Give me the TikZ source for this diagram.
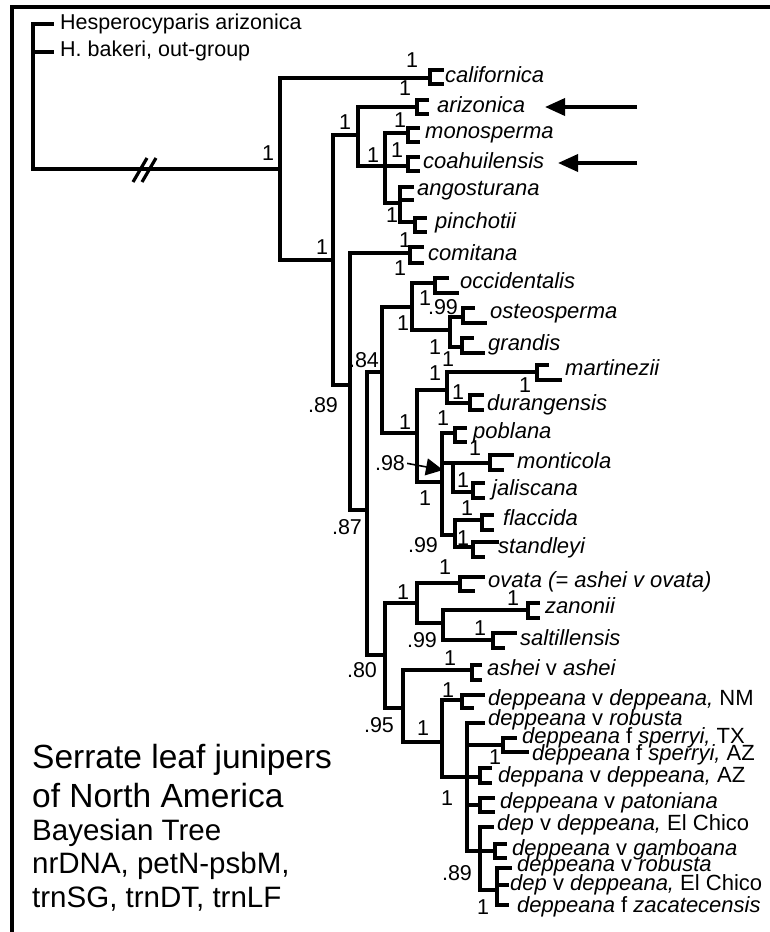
\documentclass[tikz,border=0pt]{standalone}
\usepackage{fontspec}
\setmainfont{Liberation Sans}
\usetikzlibrary{calc,arrows.meta}
\newcommand\rmv[1]{{\upshape #1}}
\newcommand\tipbr[5]{\draw[tree] ($(#1)+(#4,-#2)$) -- ($(#1)+(0,-#2)$) -- ($(#1)+(0,#3)$) -- ($(#1)+(#5,#3)$);}
\tikzset{
  tree/.style={line width=3.6pt, line cap=rect, line join=miter},
  framel/.style={line width=3.8pt},
  supp/.style={font=\fontsize{21.5}{21.5}\selectfont, inner sep=0pt, text height=15pt, text depth=0pt, anchor=center},
  taxon/.style={font=\fontsize{22}{22}\selectfont\itshape, inner sep=0pt, anchor=west, text height=15.5pt, text depth=4.5pt},
  outg/.style={font=\fontsize{21.5}{21.5}\selectfont, inner sep=0pt, anchor=west, text height=15.5pt, text depth=4.5pt},
  ttla/.style={font=\fontsize{33.5}{33.5}\selectfont, inner sep=0pt, anchor=base west},
  ttlb/.style={font=\fontsize{29.5}{29.5}\selectfont, inner sep=0pt, anchor=base west},
  bigarrow/.style={line width=3.6pt, -{Triangle[length=20pt,width=17pt]}},
}
\begin{document}
\begin{tikzpicture}[x=1pt,y=-1pt]
\fill[white] (0,0) rectangle (770,932);
\useasboundingbox (0,0) rectangle (770,932);
% frame
\coordinate (fr1) at (770,7);
\coordinate (fr2) at (12,7);
\coordinate (fr3) at (12,932);
\draw[framel] (fr1) -- (fr2) -- (fr3);

% out-group and root
\coordinate (og1) at (52,24);
\coordinate (og2) at (52,52);
\coordinate (og2s) at (33,52);
\coordinate (Rt) at (33,169);
\coordinate (A) at (280,169);
\draw[tree] (og1) -| (Rt) -- (A);
\draw[tree] (og2s) -- (og2);
\node[outg] (tog1) at (60,24) {Hesperocyparis arizonica};
\node[outg] (tog2) at (60,51) {H. bakeri, out-group};
\coordinate (br1a) at (133,182); \coordinate (br1b) at (147,158);
\coordinate (br2a) at (142,182); \coordinate (br2b) at (156,158);
\draw[line width=3.2pt] (br1a) -- (br1b);
\draw[line width=3.2pt] (br2a) -- (br2b);

% internal nodes
\coordinate (C) at (333,260);
\coordinate (D) at (358,135);
\coordinate (F) at (385,166);
\coordinate (G) at (400,203);
\coordinate (E) at (350,385);
\coordinate (I) at (367,510);
\coordinate (J) at (382,372);
\coordinate (H) at (412,307);
\coordinate (M) at (450,330);
\coordinate (L) at (417,433);
\coordinate (O) at (447,390);
\coordinate (N) at (442,482);
\coordinate (P) at (453,463);
\coordinate (Q) at (455,535);
\coordinate (K) at (385,655);
\coordinate (R) at (417,603);
\coordinate (S) at (443,623);
\coordinate (T) at (403,708);
\coordinate (U) at (442,742);
\coordinate (V) at (467,777);
\coordinate (W) at (480,851);
\coordinate (X) at (497,890);

% tips (bracket bars)
\coordinate (cal) at (430,78);
\coordinate (ari) at (417,107);
\coordinate (mon) at (408,133);
\coordinate (coa) at (408,166);
\coordinate (ang) at (400,193);
\coordinate (pin) at (415,222);
\coordinate (com) at (410,253);
\coordinate (occ) at (435,283);
\coordinate (ost) at (463,317);
\coordinate (gra) at (462,347);
\coordinate (mar) at (537,372);
\coordinate (dur) at (470,403);
\coordinate (pob) at (455,433);
\coordinate (mnt) at (490,463);
\coordinate (jal) at (473,492);
\coordinate (fla) at (482,520);
\coordinate (sta) at (473,547);
\coordinate (ova) at (460,583);
\coordinate (zan) at (528,610);
\coordinate (sal) at (493,640);
\coordinate (ash) at (472,670);
\coordinate (dnm) at (462,700);
\coordinate (spe) at (503,745);
\coordinate (daz) at (480,777);
\coordinate (pat) at (480,805);
\coordinate (gam) at (495,851);
% single stubs
\coordinate (rob1) at (483,723);
\coordinate (ec1) at (492,827);
\coordinate (rob2) at (510,868);
\coordinate (ec2) at (507,885);
\coordinate (zac) at (507,905);

\foreach \pa/\ch in {A/cal, A/C, C/D, C/E, D/ari, D/F, F/mon, F/coa, F/G, G/ang, G/pin,
  E/com, E/I, I/J, I/K, J/H, J/L, H/occ, H/M, M/ost, M/gra, L/O, L/N, O/mar, O/dur,
  N/pob, N/P, N/Q, P/mnt, P/jal, Q/fla, Q/sta, K/R, K/T, R/ova, R/S, S/zan, S/sal,
  T/ash, T/U, U/dnm, U/V, V/rob1, V/spe, V/daz, V/pat, V/W, W/ec1, W/gam, W/X,
  X/rob2, X/ec2, X/zac}
  \draw[tree] (\pa) |- (\ch);

\foreach \nm/\ua/\ub/\uc/\ud in {cal/8/6/12/12, ari/7/7/10/10, mon/5/9/10/10, coa/9/5/10/10,
  ang/6/7/12/12, pin/4/10/10/10, com/6/10/12/12, occ/5/10/12/22, ost/9/6/10/22,
  gra/9/6/10/21, mar/7/8/10/23, dur/8/7/12/12, pob/5/9/10/10, mnt/8/7/22/12,
  jal/9/6/10/10, fla/5/10/10/10, sta/5/10/24/10, ova/6/8/23/13, zan/7/8/10/10,
  sal/7/8/22/10, ash/5/10/8/8, dnm/5/8/21/10, spe/7/7/12/24, daz/9/6/10/10,
  pat/7/7/13/13, gam/7/7/10/10}
  \tipbr{\nm}{\ua}{\ub}{\uc}{\ud};

% taxon labels
\node[taxon] (tcal) at (445,77) {californica};
\node[taxon] (tari) at (437,107) {arizonica};
\node[taxon] (tmon) at (425,133) {monosperma};
\node[taxon] (tcoa) at (423,163) {coahuilensis};
\node[taxon] (tang) at (417,190) {angosturana};
\node[taxon] (tpin) at (435,223) {pinchotii};
\node[taxon] (tcom) at (428,255) {comitana};
\node[taxon] (tocc) at (460,283) {occidentalis};
\node[taxon] (tost) at (490,313) {osteosperma};
\node[taxon] (tgra) at (488,345) {grandis};
\node[taxon] (tmar) at (565,370) {martinezii};
\node[taxon] (tdur) at (487,405) {durangensis};
\node[taxon] (tpob) at (473,433) {poblana};
\node[taxon] (tmnt) at (517,463) {monticola};
\node[taxon] (tjal) at (492,490) {jaliscana};
\node[taxon] (tfla) at (503,520) {flaccida};
\node[taxon] (tsta) at (498,548) {standleyi};
\node[taxon] (tova) at (488,582) {ovata (= ashei v ovata)};
\node[taxon] (tzan) at (545,608) {zanonii};
\node[taxon] (tsal) at (520,640) {saltillensis};
\node[taxon] (tash) at (487,670) {ashei \rmv{v} ashei};
\node[taxon] (tdnm) at (488,700) {deppeana \rmv{v} deppeana, \rmv{NM}};
\node[taxon] (trob1) at (488,720) {deppeana \rmv{v} robusta};
\node[taxon] (tspa) at (522,738) {deppeana \rmv{f} sperryi, \rmv{TX}};
\node[taxon] (tspb) at (532,755) {deppeana \rmv{f} sperryi, \rmv{AZ}};
\node[taxon] (tdaz) at (498,777) {deppana \rmv{v} deppeana, \rmv{AZ}};
\node[taxon] (tpat) at (500,803) {deppeana \rmv{v} patoniana};
\node[taxon] (tec1) at (497,825) {dep \rmv{v} deppeana, \rmv{El Chico}};
\node[taxon] (tgam) at (512,850) {deppeana \rmv{v} gamboana};
\node[taxon] (trob2) at (517,866) {deppeana \rmv{v} robusta};
\node[taxon] (tec2) at (510,885) {dep \rmv{v} deppeana, \rmv{El Chico}};
\node[taxon] (tzac) at (517,907) {deppeana \rmv{f} zacatecensis};

% arrows on the right
\coordinate (arAs) at (637,107); \coordinate (arAe) at (545,107);
\coordinate (arBs) at (637,163); \coordinate (arBe) at (558,163);
\draw[bigarrow] (arAs) -- (arAe);
\draw[bigarrow] (arBs) -- (arBe);

% support values
\node[supp] (s01) at (268,153) {1};
\node[supp] (s02) at (412,60) {1};
\node[supp] (s03) at (405,88) {1};
\node[supp] (s04) at (322,247) {1};
\node[supp] (s05) at (345,122) {1};
\node[supp] (s06) at (400,120) {1};
\node[supp] (s07) at (373,155) {1};
\node[supp] (s08) at (397,150) {1};
\node[supp] (s09) at (392,215) {1};
\node[supp] (s10) at (405,240) {1};
\node[supp] (s11) at (400,268) {1};
\node[supp] (s12) at (323,405) {.89};
\node[supp] (s13) at (347,527) {.87};
\node[supp] (s14) at (364,360) {.84};
\node[supp] (s15) at (403,323) {1};
\node[supp] (s16) at (425,298) {1};
\node[supp] (s17) at (443,307) {.99};
\node[supp] (s18) at (435,347) {1};
\node[supp] (s19) at (448,359) {1};
\node[supp] (s20) at (435,373) {1};
\node[supp] (s21) at (458,392) {1};
\node[supp] (s22) at (525,385) {1};
\node[supp] (s23) at (405,422) {1};
\node[supp] (s24) at (443,418) {1};
\node[supp] (s25) at (475,448) {1};
\node[supp] (s26) at (463,480) {1};
\node[supp] (s27) at (425,498) {1};
\node[supp] (s28) at (390,463) {.98};
\node[supp] (s29) at (467,508) {1};
\node[supp] (s30) at (463,538) {1};
\node[supp] (s31) at (423,545) {.99};
\node[supp] (s32) at (445,567) {1};
\node[supp] (s33) at (403,592) {1};
\node[supp] (s34) at (362,670) {.80};
\node[supp] (s35) at (513,598) {1};
\node[supp] (s36) at (480,628) {1};
\node[supp] (s37) at (422,640) {.99};
\node[supp] (s38) at (450,658) {1};
\node[supp] (s39) at (379,725) {.95};
\node[supp] (s40) at (423,728) {1};
\node[supp] (s41) at (448,690) {1};
\node[supp] (s42) at (495,757) {1};
\node[supp] (s43) at (447,798) {1};
\node[supp] (s44) at (457,873) {.89};
\node[supp] (s45) at (483,907) {1};

% the .98 pointer
\coordinate (p98) at (443,470);
\draw[line width=1.6pt, -{Triangle[length=17pt,width=17pt]}, shorten <=2pt] (s28.east) -- (p98);

% title block
\node[ttla] (ti1) at (32,768) {Serrate leaf junipers};
\node[ttla] (ti2) at (32,807) {of North America};
\node[ttlb] (ti3) at (32,840) {Bayesian Tree};
\node[ttlb] (ti4) at (32,873) {nrDNA, petN-psbM,};
\node[ttlb] (ti5) at (32,907) {trnSG, trnDT, trnLF};
\end{tikzpicture}
\end{document}
